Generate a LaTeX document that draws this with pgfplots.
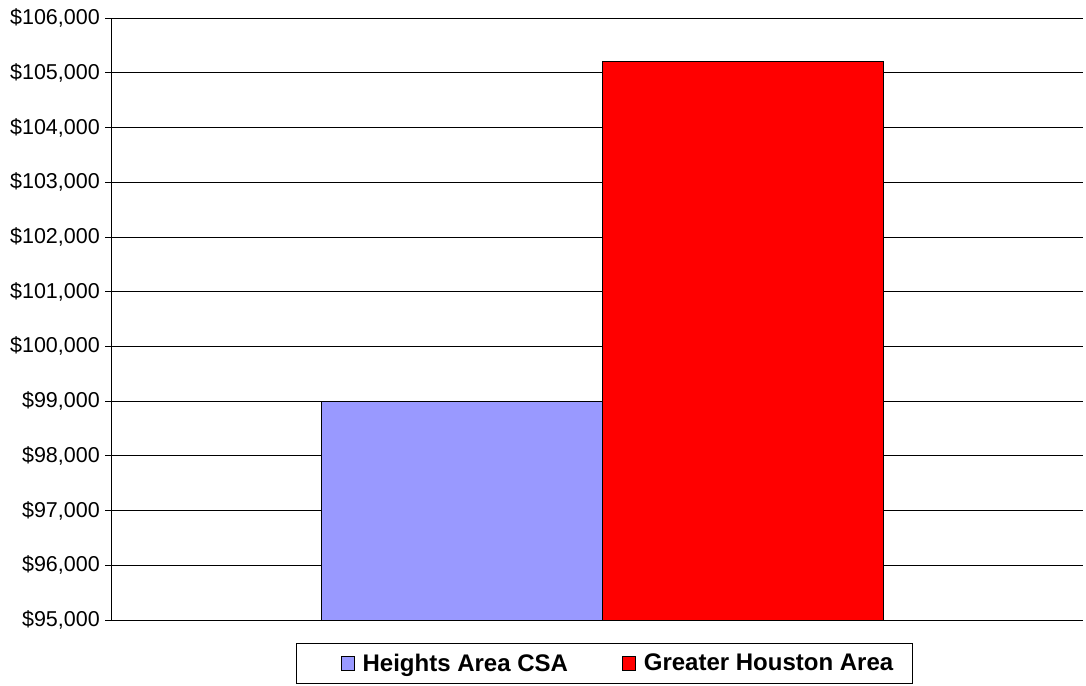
\documentclass[border=0pt]{standalone}
\usepackage{pgfplots}
\pgfplotsset{compat=1.18}
\usepackage{fontspec}
\setmainfont{Liberation Sans}
\definecolor{heights}{HTML}{9999FF}
\definecolor{houston}{HTML}{FF0000}
\begin{document}
\begin{tikzpicture}
\begin{axis}[
  scale only axis,
  width=972bp, height=602bp,
  xmin=-1, xmax=1,
  ymin=95000, ymax=106000,
  ytick distance=1000,
  xtick=\empty,
  axis x line*=bottom, axis y line*=left,
  axis line style={black, line width=0.9bp},
  y axis line style={-},
  x axis line style={-},
  ymajorgrids,
  major grid style={black, line width=0.8bp},
  tick align=outside,
  major tick length=6bp,
  tick style={black, line width=0.8bp},
  /pgf/number format/assume math mode=true,
  yticklabel style={font=\fontsize{21.5bp}{26bp}\selectfont, inner sep=2bp, xshift=-3bp},
  yticklabel={\$\pgfmathprintnumber[fixed, precision=0, 1000 sep={,}]{\tick}},
  scaled y ticks=false,
  legend style={at={(493.5/972,-23/602)}, anchor=north,
    draw=black, line width=0.8bp,
    font=\fontsize{24bp}{28bp}\selectfont\bfseries,
    inner xsep=17bp, inner ysep=8.5bp,
    /tikz/every even column/.append style={column sep=52bp}},
  legend columns=2,
  legend image code/.code={\draw[#1, draw=black, line width=0.8bp] (0bp,-7bp) rectangle (13bp,7bp); \path (19bp,0);},
]
\addplot[ybar, bar width=0.578, bar shift=0, fill=heights, draw=black, line width=0.9bp,
  legend image code/.code={\path (-27bp,0); \draw[##1, draw=black, line width=0.8bp] (0bp,-7bp) rectangle (13bp,7bp); \path (19bp,0);}]
  coordinates {(-0.277,98985)};
\addlegendentry{Heights Area CSA}
\addplot[ybar, bar width=0.578, bar shift=0, fill=houston, draw=black, line width=0.9bp]
  coordinates {(0.301,105200)};
\addlegendentry{Greater Houston Area}
\end{axis}
\path (-111bp,-66bp) rectangle (975bp,620bp);
\end{tikzpicture}
\end{document}
